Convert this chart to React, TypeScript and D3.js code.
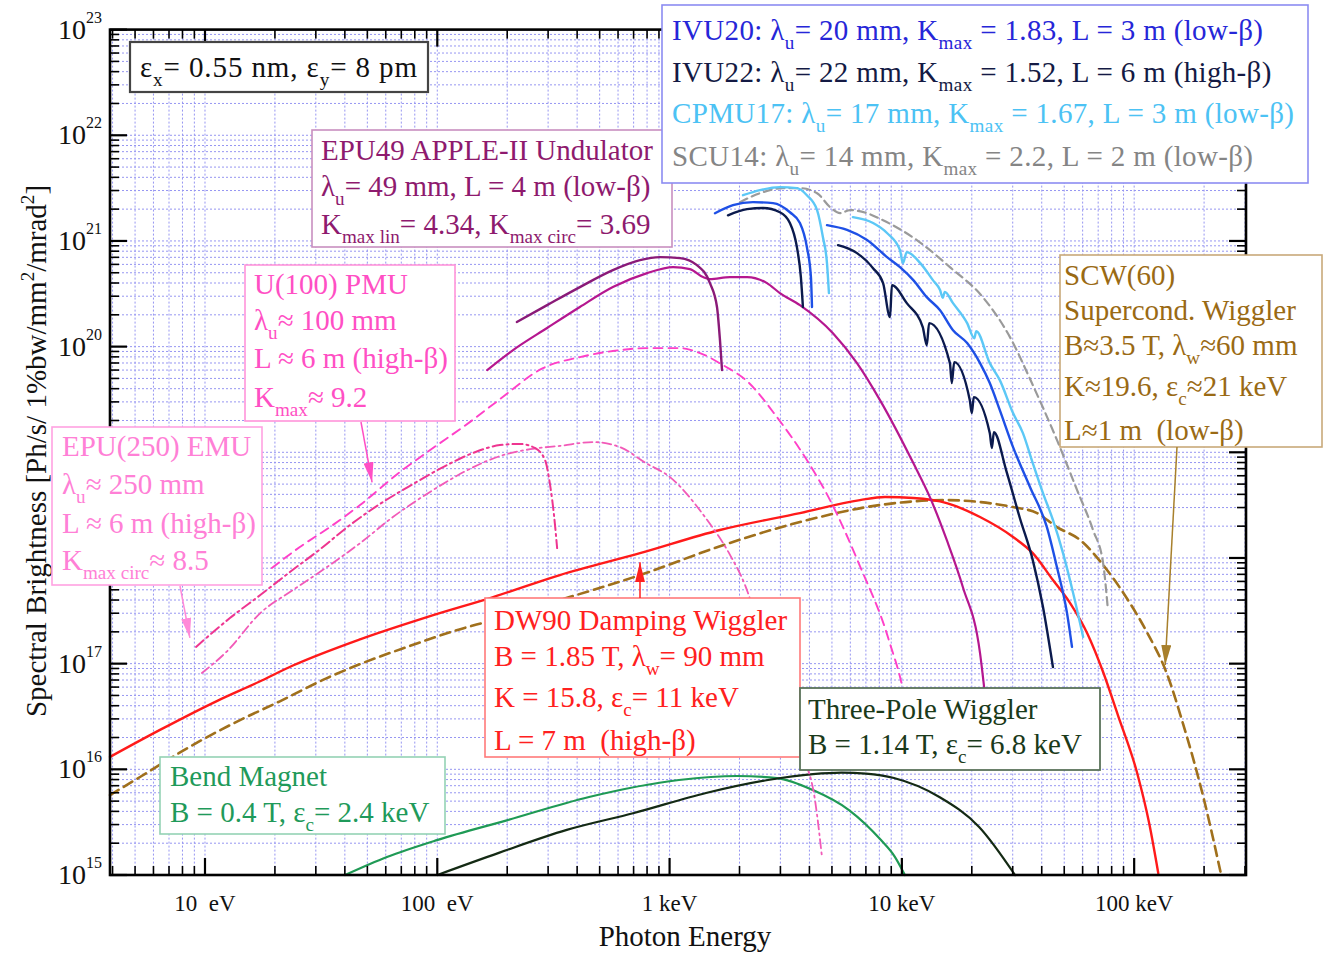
import React from "react";
import * as d3 from "d3";

// chart frame / canvas
const W = 1323;
const H = 953;
const PL = 110, PR = 1246, PT = 29.6, PB = 875;
const FONT = "'Liberation Serif','Times New Roman',Times,serif";

type Pt = [number, number]; // [photon energy eV, brightness]

// ---- data ----
const xDomain = [3.9, 3.03e5];
const yDomain = [1e15, 1e23];

const xTickLabels: [number, string][] = [
  [10, "10  eV"], [100, "100  eV"], [1e3, "1 keV"], [1e4, "10 keV"], [1e5, "100 keV"],
];
// decades whose label is hidden behind the EMU box in the original
const yHiddenLabels = [18, 19];

const dw90: Pt[] = [[3.9,1.31e16],[6.4,2.36e16],[11.3,4.45e16],[17.0,6.7e16],[23.9,9.6e16],[46.5,1.7e17],[90.3,2.76e17],[174,4.27e17],[337,6.89e17],[746,1.11e18],[1648,1.84e18],[3640,2.66e18],[6600,3.53e18],[8460,3.77e18],[11200,3.69e18],[15600,3.31e18],[21700,2.44e18],[30100,1.58e18],[36600,1.11e18],[44700,6.18e17],[53000,3.74e17],[62700,1.95e17],[73500,8.33e16],[85100,3.26e16],[103000,9.23e15],[116000,3.1e15],[127000,1.04e15]];

const scw60: Pt[] = [[3.9,5.71e15],[5.25,8.46e15],[7.88,1.46e16],[10.6,2.11e16],[13.6,2.8e16],[21.0,4.4e16],[33.5,7.3e16],[49.8,1.05e17],[76.2,1.47e17],[114,1.99e17],[174,2.59e17],[337,4.0e17],[746,6.89e17],[1698,1.32e18],[3640,2.19e18],[8050,3.17e18],[15600,3.53e18],[21700,3.38e18],[30100,3.03e18],[38200,2.66e18],[46500,1.96e18],[58500,1.48e18],[76400,7.69e17],[95900,3.74e17],[114000,1.95e17],[138000,8.15e16],[162000,2.74e16],[200000,5.12e15],[236000,1.04e15]];

const bendMagnet: Pt[] = [[40.1,1.0e15],[60.7,1.48e15],[99.7,2.14e15],[201,3.31e15],[450,5.47e15],[1097,7.92e15],[1950,8.65e15],[2900,8.27e15],[4142,6.37e15],[5920,4.12e15],[8130,2.14e15],[9300,1.5e15],[10300,1.0e15]];

const threePole: Pt[] = [[100,1.0e15],[184,1.62e15],[361,2.67e15],[703,3.86e15],[1435,5.97e15],[2653,7.92e15],[4142,9.0e15],[5500,9.3e15],[7000,9.1e15],[9245,8.27e15],[14500,5.47e15],[21500,2.85e15],[30700,1.0e15]];

const epu49Lin: Pt[] = [[220,1.71e20],[297,2.47e20],[411,3.66e20],[570,5.3e20],[746,6.59e20],[910,7.03e20],[1109,6.88e20],[1312,5.9e20],[1492,3.99e20],[1600,2.37e20],[1648,1.15e20],[1682,6.0e19]];

const epu49Circ: Pt[] = [[164,6.0e19],[212,9.27e19],[297,1.5e20],[411,2.37e20],[570,3.66e20],[800,4.96e20],[1035,5.65e20],[1224,5.41e20],[1393,4.55e20],[1492,4.35e20],[1820,4.55e20],[2155,4.55e20],[2626,3.99e20],[2985,3.21e20],[3640,2.47e20],[5050,1.34e20],[6410,6.98e19],[8050,3.12e19],[11200,7.91e18],[13200,3.77e18],[15600,1.48e18],[18300,5.31e17],[21700,1.26e17],[22800,5.05e16]];

const pmu100: Pt[] = [[19.4,8.03e17],[25.6,1.27e18],[34.5,1.96e18],[46.5,3.17e18],[69.0,6.5e18],[90.3,1.0e19],[138,1.93e19],[186,3.18e19],[285,6.26e19],[411,7.96e19],[570,9.08e19],[800,9.68e19],[1109,9.68e19],[1352,8.69e19],[1698,6.68e19],[2155,4.72e19],[2900,2.15e19],[3900,8.44e18],[4906,3.53e18],[6600,8.38e17],[8790,1.67e17],[10300,4.53e16],[11400,9.85e15]];

const emu250a: Pt[] = [[9.15,1.44e17],[12.8,2.7e17],[17.3,4.46e17],[23.2,7.36e17],[31.3,1.21e18],[42.1,2.05e18],[56.6,3.24e18],[78.6,5.0e18],[110,7.57e18],[145,1.0e19],[186,1.17e19],[227,1.2e19],[263,1.1e19],[291,8.44e18],[306,4.89e18],[318,2.55e18],[328,1.24e18]];

const emu250b: Pt[] = [[9.7,8.15e16],[12.4,1.3e17],[17.3,3.01e17],[23.9,4.97e17],[33.5,8.2e17],[46.5,1.38e18],[64.4,2.44e18],[95.8,4.39e18],[143,7.24e18],[186,9.21e18],[251,1.07e19],[337,1.15e19],[468,1.25e19],[611,1.12e19],[791,7.91e18],[1004,5.82e18],[1420,2.44e18],[1820,1.07e18],[2113,5.54e17],[2450,2.08e17],[2985,5.63e16],[3640,1.52e16],[4227,5.12e15],[4530,1.48e15]];

const cpmu17a: Pt[] = [[2070,2.71e21],[2450,3.03e21],[2985,3.23e21],[3533,3.16e21],[3900,2.71e21],[4315,1.96e21],[4571,1.09e21],[4760,6.17e20],[4853,3.21e20]];
const cpmu17b: Pt[] = [[6155,1.68e21],[7515,1.48e21],[8630,1.19e21],[9815,8.18e20],[10100,6.17e20],[10500,7.84e20],[12000,6.17e20],[13600,4.26e20],[14600,3.43e20],[15000,2.9e20],[15300,3.3e20],[16600,2.58e20],[19100,1.67e20],[20500,1.2e20],[20900,1.4e20],[23900,6.98e19],[26400,4.82e19],[30100,2.35e19],[33200,1.52e19],[36600,7.91e18],[40500,4.11e18],[44700,2.29e18],[49400,1.11e18],[54600,4.66e17],[60300,1.79e17]];

const ivu20a: Pt[] = [[1568,1.83e21],[1875,2.18e21],[2286,2.33e21],[2788,2.28e21],[3296,1.87e21],[3640,1.48e21],[3900,8.74e20],[4060,4.55e20],[4103,2.37e20]];
const ivu20b: Pt[] = [[4760,1.41e21],[5806,1.27e21],[7080,1.02e21],[8630,7.03e20],[9815,5.65e20],[11200,4.26e20],[12800,2.94e20],[14600,2.21e20],[16600,1.43e20],[19100,1.08e20],[21700,6.98e19],[23900,4.52e19],[26400,2.51e19],[30100,1.12e19],[35600,4.69e18],[42100,1.96e18],[46500,8.2e17],[51400,3.01e17],[54000,1.44e17]];

const ivu22a: Pt[] = [[1784,1.75e21],[2155,2.0e21],[2524,2.05e21],[2985,1.87e21],[3296,1.48e21],[3533,8.74e20],[3675,4.55e20],[3750,2.37e20]];
const ivu22b: Pt[] = [[5310,9.12e20],[6410,7.67e20],[7515,5.53e20],[8300,3.99e20],[8890,1.9e20],[9060,3.82e20],[10500,2.58e20],[12300,1.53e20],[12800,1.03e20],[13100,1.67e20],[16100,6.98e19],[16400,4.52e19],[16800,7.13e19],[19600,3.12e19],[20000,2.35e19],[20400,3.33e19],[23900,1.52e19],[24400,1.1e19],[24900,1.55e19],[28100,6.79e18],[32200,2.39e18],[36600,9.55e17],[40500,3.43e17],[44700,9.29e16]];

const scu14: Pt[] = [[2010,2.33e21],[2450,2.83e21],[3076,3.16e21],[3640,3.16e21],[4315,2.83e21],[4906,2.09e21],[5420,1.83e21],[5980,1.96e21],[7080,1.83e21],[8300,1.57e21],[11600,1.02e21],[16100,5.65e20],[22300,2.94e20],[29200,1.23e20],[36600,4.33e19],[46500,1.31e19],[56800,4.39e18],[66500,1.84e18],[73500,8.95e17],[77100,3.21e17]];

// ---- styles ----
const series = [
  { d: bendMagnet, c: "#1f9a55", w: 2.2 },
  { d: threePole, c: "#142a14", w: 2.2 },
  { d: scw60, c: "#a0701c", w: 2.6, dash: "10,6" },
  { d: dw90, c: "#ff1a1a", w: 2.4 },
  { d: emu250b, c: "#f25ab8", w: 1.8, dash: "9,4,2,4" },
  { d: emu250a, c: "#ee3590", w: 2, dash: "10,4,2,4" },
  { d: pmu100, c: "#ff40c8", w: 1.9, dash: "9,6" },
  { d: epu49Circ, c: "#b5178f", w: 2.2 },
  { d: epu49Lin, c: "#8a1a78", w: 2.4 },
  { d: scu14, c: "#9a9a9a", w: 2.2, dash: "8,5" },
  { d: cpmu17a, c: "#5cc8f6", w: 2.4 },
  { d: cpmu17b, c: "#5cc8f6", w: 2.4 },
  { d: ivu20a, c: "#1e50e6", w: 2.4 },
  { d: ivu20b, c: "#1e50e6", w: 2.4 },
  { d: ivu22a, c: "#0b1a4d", w: 2.4 },
  { d: ivu22b, c: "#0b1a4d", w: 2.4 },
];

type Box = { x: number; y: number; w: number; h: number; stroke: string; color: string; tx: number; lines: [number, string][]; sw?: number; ls?: number };

const boxes: Box[] = [
  { x: 130, y: 42, w: 298, h: 50, stroke: "#444", sw: 2.2, color: "#111", tx: 140, ls: 0.9, lines: [[77, "ε_{x}= 0.55 nm, ε_{y}= 8 pm"]] },
  { x: 312, y: 130, w: 360, h: 117, stroke: "#c98fc0", color: "#8e1a6e", tx: 321, lines: [[160, "EPU49 APPLE-II Undulator"], [196, "λ_{u}= 49 mm, L = 4 m (low-β)"], [234, "K_{max lin}= 4.34, K_{max circ}= 3.69"]] },
  { x: 662, y: 5, w: 646, h: 178, stroke: "#8c8cf2", color: "#2a2ad6", tx: 672, lines: [] },
  { x: 245, y: 265, w: 210, h: 156, stroke: "#ff94da", color: "#ff4fc4", tx: 254, lines: [[294, "U(100) PMU"], [330, "λ_{u}≈ 100 mm"], [368, "L ≈ 6 m (high-β)"], [407, "K_{max}≈ 9.2"]] },
  { x: 52, y: 427, w: 210, h: 158, stroke: "#ffa2e2", color: "#ff80d6", tx: 62, lines: [[456, "EPU(250) EMU"], [494, "λ_{u}≈ 250 mm"], [533, "L ≈ 6 m (high-β)"], [570, "K_{max circ}≈ 8.5"]] },
  { x: 485, y: 598, w: 315, h: 159, stroke: "#ff7a7a", color: "#ff2020", tx: 494, lines: [[630, "DW90 Damping Wiggler"], [666, "B = 1.85 T, λ_{w}= 90 mm"], [707, "K = 15.8, ε_{c}= 11 keV"], [750, "L = 7 m  (high-β)"]] },
  { x: 1060, y: 255, w: 262, h: 192, stroke: "#c9a97a", color: "#9a6a14", tx: 1064, lines: [[285, "SCW(60)"], [320, "Supercond. Wiggler"], [355, "B≈3.5 T, λ_{w}≈60 mm"], [396, "K≈19.6, ε_{c}≈21 keV"], [440, "L≈1 m  (low-β)"]] },
  { x: 800, y: 688, w: 300, h: 82, stroke: "#5a735a", sw: 1.8, color: "#1a3a1a", tx: 808, lines: [[719, "Three-Pole Wiggler"], [754, "B = 1.14 T, ε_{c}= 6.8 keV"]] },
  { x: 160, y: 757, w: 285, h: 77, stroke: "#94d2b4", color: "#1f9a5a", tx: 170, lines: [[786, "Bend Magnet"], [822, "B = 0.4 T, ε_{c}= 2.4 keV"]] },
];

const legendLines: [number, string, string][] = [
  [40, "#2626d8", "IVU20: λ_{u}= 20 mm, K_{max} = 1.83, L = 3 m (low-β)"],
  [82, "#141a44", "IVU22: λ_{u}= 22 mm, K_{max} = 1.52, L = 6 m (high-β)"],
  [123, "#4cc2f4", "CPMU17: λ_{u}= 17 mm, K_{max} = 1.67, L = 3 m (low-β)"],
  [166, "#858585", "SCU14: λ_{u}= 14 mm, K_{max} = 2.2, L = 2 m (low-β)"],
];

// arrows: tail in px (box edge), tip in data coords
const arrows: { from: [number, number]; to: Pt; c: string }[] = [
  { from: [361, 422], to: [52.4, 5.2e18], c: "#ff4fc4" },
  { from: [180, 586], to: [8.61, 1.75e17], c: "#ff8ad8" },
  { from: [640, 598], to: [746, 9.1e17], c: "#ff2020" },
  { from: [1177, 447], to: [136000, 9.7e16], c: "#a8802c" },
];

function parseRich(s: string) {
  return s.split(/(_\{[^}]*\}|\^\{[^}]*\})/).filter((p) => p !== "").map((p) => {
    if (p.startsWith("_{")) return { t: p.slice(2, -1), k: "sub" };
    if (p.startsWith("^{")) return { t: p.slice(2, -1), k: "sup" };
    return { t: p, k: "n" };
  });
}

const Rich = ({ x, y, s, size, fill, anchor, transform, ls }: any) => {
  const segs = parseRich(s);
  let cur = 0;
  return (
    <text x={x} y={y} fontSize={size} fill={fill} textAnchor={anchor || "start"} transform={transform}
      fontFamily={FONT} letterSpacing={ls || 0} style={{ whiteSpace: "pre" }}>
      {segs.map((g, i) => {
        const target = g.k === "sub" ? size * 0.3 : g.k === "sup" ? -size * 0.42 : 0;
        const dy = target - cur;
        cur = target;
        return <tspan key={i} dy={dy} fontSize={g.k === "n" ? size : size * 0.66}>{g.t}</tspan>;
      })}
    </text>
  );
};

const App = () => {
  const x = d3.scaleLog().domain(xDomain).range([PL, PR]);
  const y = d3.scaleLog().domain(yDomain).range([PB, PT]);
  const line = d3.line<Pt>().x((d) => x(d[0])).y((d) => y(d[1])).curve(d3.curveMonotoneX);

  const isMajor = (v: number) => Math.abs(Math.log10(v) - Math.round(Math.log10(v))) < 1e-6;
  const xt = x.ticks();
  const yt = y.ticks();
  const yMajor = yt.filter(isMajor).filter((v) => !yHiddenLabels.includes(Math.round(Math.log10(v))));

  return (
    <div style={{ position: "absolute", left: 0, top: 0 }}>
      <svg width={W} height={H} style={{ display: "block", background: "#fff" }}>
        <defs>
          {arrows.map((a, i) => (
            <marker key={i} id={"ah" + i} viewBox="0 0 20 10" refX="20" refY="5" markerWidth="20" markerHeight="10"
              markerUnits="userSpaceOnUse" orient="auto">
              <path d="M0,0 L20,5 L0,10 z" fill={a.c} />
            </marker>
          ))}
        </defs>

        {/* grid */}
        <g stroke="#8585f0" strokeWidth={1} strokeDasharray="2,2" opacity={0.85}>
          {xt.filter((v) => x(v) > PL + 1 && x(v) < PR - 1).map((v, i) => (
            <line key={"gx" + i} x1={x(v)} x2={x(v)} y1={PT} y2={PB} />
          ))}
          {yt.filter((v) => y(v) > PT + 1 && y(v) < PB - 1).map((v, i) => (
            <line key={"gy" + i} x1={PL} x2={PR} y1={y(v)} y2={y(v)} />
          ))}
        </g>

        {/* curves */}
        <g fill="none" strokeLinejoin="round" strokeLinecap="round">
          {series.map((s, i) => (
            <path key={i} d={line(s.d) || ""} stroke={s.c} strokeWidth={s.w} strokeDasharray={s.dash} />
          ))}
        </g>

        {/* frame and ticks */}
        <g stroke="#000">
          {xt.map((v, i) => {
            const L = isMajor(v) ? 17 : 9;
            return (
              <g key={"tx" + i} strokeWidth={isMajor(v) ? 2.2 : 1.6}>
                <line x1={x(v)} x2={x(v)} y1={PB} y2={PB - L} />
                <line x1={x(v)} x2={x(v)} y1={PT} y2={PT + L} />
              </g>
            );
          })}
          {yt.map((v, i) => {
            const L = isMajor(v) ? 17 : 9;
            return (
              <g key={"ty" + i} strokeWidth={isMajor(v) ? 2.2 : 1.6}>
                <line x1={PL} x2={PL + L} y1={y(v)} y2={y(v)} />
                <line x1={PR} x2={PR - L} y1={y(v)} y2={y(v)} />
              </g>
            );
          })}
          <rect x={PL} y={PT} width={PR - PL} height={PB - PT} fill="none" strokeWidth={2.6} />
        </g>

        {/* axis labels */}
        {yMajor.map((v, i) => (
          <g key={"yl" + i} fontFamily={FONT} fill="#111">
            <text x={86} y={y(v) + 9} fontSize={28} textAnchor="end">10</text>
            <text x={86} y={y(v) - 7} fontSize={16}>{Math.round(Math.log10(v))}</text>
          </g>
        ))}
        {xTickLabels.map(([v, t], i) => (
          <text key={"xl" + i} x={x(v)} y={911} fontSize={23} textAnchor="middle" fontFamily={FONT} fill="#111"
            style={{ whiteSpace: "pre" }}>{t}</text>
        ))}
        <text x={685} y={946} fontSize={29} textAnchor="middle" fontFamily={FONT} fill="#111">Photon Energy</text>
        <Rich x={0} y={0} s="Spectral Brightness [Ph/s/ 1%bw/mm^{2}/mrad^{2}]" size={29} fill="#111" anchor="middle"
          transform="translate(46,451) rotate(-90)" />

        {/* annotation boxes */}
        {boxes.map((b, i) => (
          <g key={"b" + i}>
            <rect x={b.x} y={b.y} width={b.w} height={b.h} fill="#fff" stroke={b.stroke} strokeWidth={b.sw || 1.6} />
            {b.lines.map(([by, s], j) => (
              <Rich key={j} x={b.tx} y={by} s={s} size={29} fill={b.color} ls={b.ls} />
            ))}
          </g>
        ))}
        {legendLines.map(([ly, c, s], i) => (
          <Rich key={"lg" + i} x={672} y={ly} s={s} size={29} fill={c} ls={0.35} />
        ))}

        {/* arrows */}
        {arrows.map((a, i) => (
          <line key={"ar" + i} x1={a.from[0]} y1={a.from[1]} x2={x(a.to[0])} y2={y(a.to[1])} stroke={a.c}
            strokeWidth={1.5} markerEnd={`url(#ah${i})`} />
        ))}
      </svg>
    </div>
  );
};

export default App;
